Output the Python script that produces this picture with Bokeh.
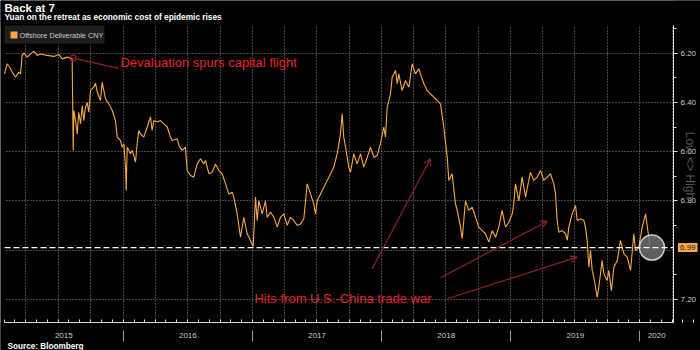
import math
import pandas as pd
from bokeh.plotting import figure
from bokeh.models import (ColumnDataSource, Range1d, FixedTicker, DatetimeAxis, DatetimeTickFormatter,
                          PrintfTickFormatter, Label, Arrow, OpenHead, BoxAnnotation)
from bokeh.embed import file_html
from bokeh.resources import INLINE

# ---------------- data ----------------
t_years = [
    2015.081, 2015.102, 2015.122, 2015.141, 2015.166, 2015.192, 2015.205, 2015.218, 2015.231, 2015.257,
    2015.283, 2015.308, 2015.334, 2015.360, 2015.412, 2015.463, 2015.502, 2015.528, 2015.567, 2015.605,
    2015.613, 2015.618, 2015.631, 2015.644, 2015.656, 2015.670, 2015.683, 2015.695, 2015.708, 2015.721,
    2015.734, 2015.747, 2015.772, 2015.786, 2015.799, 2015.824, 2015.837, 2015.863, 2015.889, 2015.915,
    2015.940, 2015.954, 2015.979, 2015.992, 2016.005, 2016.018, 2016.023, 2016.031, 2016.056, 2016.070,
    2016.082, 2016.095, 2016.108, 2016.121, 2016.134, 2016.159, 2016.186, 2016.211, 2016.224, 2016.237,
    2016.263, 2016.289, 2016.314, 2016.341, 2016.366, 2016.379, 2016.418, 2016.431, 2016.457, 2016.482,
    2016.495, 2016.521, 2016.546, 2016.573, 2016.598, 2016.624, 2016.637, 2016.663, 2016.689, 2016.714,
    2016.740, 2016.766, 2016.792, 2016.817, 2016.844, 2016.856, 2016.882, 2016.908, 2016.921, 2016.933,
    2016.960, 2016.985, 2017.006, 2017.024, 2017.037, 2017.050, 2017.076, 2017.101, 2017.115, 2017.140,
    2017.166, 2017.192, 2017.217, 2017.243, 2017.269, 2017.295, 2017.320, 2017.347, 2017.372, 2017.398,
    2017.424, 2017.450, 2017.475, 2017.488, 2017.502, 2017.527, 2017.553, 2017.579, 2017.605, 2017.630,
    2017.656, 2017.682, 2017.695, 2017.707, 2017.721, 2017.746, 2017.759, 2017.785, 2017.811, 2017.837,
    2017.862, 2017.889, 2017.914, 2017.940, 2017.966, 2017.991, 2018.017, 2018.030, 2018.043, 2018.069,
    2018.082, 2018.108, 2018.121, 2018.133, 2018.159, 2018.185, 2018.211, 2018.237, 2018.262, 2018.288,
    2018.301, 2018.327, 2018.353, 2018.378, 2018.404, 2018.430, 2018.456, 2018.481, 2018.508, 2018.520,
    2018.546, 2018.572, 2018.585, 2018.611, 2018.624, 2018.649, 2018.675, 2018.701, 2018.727, 2018.752,
    2018.779, 2018.804, 2018.830, 2018.856, 2018.882, 2018.907, 2018.933, 2018.959, 2018.985, 2019.011,
    2019.023, 2019.036, 2019.062, 2019.088, 2019.114, 2019.139, 2019.152, 2019.178, 2019.204, 2019.230,
    2019.255, 2019.282, 2019.307, 2019.333, 2019.346, 2019.359, 2019.372, 2019.398, 2019.423, 2019.437,
    2019.449, 2019.475, 2019.501, 2019.514, 2019.540, 2019.565, 2019.578, 2019.591, 2019.604, 2019.617,
    2019.630, 2019.642, 2019.669, 2019.681, 2019.707, 2019.720, 2019.746, 2019.758, 2019.779, 2019.797,
    2019.824, 2019.849, 2019.875, 2019.901, 2019.927, 2019.952, 2019.965, 2019.991, 2020.017, 2020.043,
    2020.068, 2020.076,
]
cny = [
    6.284, 6.243, 6.257, 6.277, 6.298, 6.277, 6.284, 6.209, 6.200, 6.216,
    6.203, 6.192, 6.209, 6.203, 6.209, 6.213, 6.205, 6.223, 6.216, 6.223,
    6.595, 6.433, 6.474, 6.528, 6.440, 6.487, 6.413, 6.474, 6.420, 6.400,
    6.440, 6.352, 6.338, 6.322, 6.358, 6.392, 6.318, 6.385, 6.406, 6.433,
    6.474, 6.541, 6.555, 6.582, 6.568, 6.663, 6.758, 6.582, 6.609, 6.595,
    6.616, 6.643, 6.568, 6.514, 6.528, 6.541, 6.501, 6.460, 6.514, 6.474,
    6.480, 6.474, 6.487, 6.500, 6.541, 6.555, 6.548, 6.575, 6.595, 6.582,
    6.677, 6.697, 6.704, 6.650, 6.629, 6.650, 6.636, 6.690, 6.684, 6.650,
    6.677, 6.690, 6.731, 6.772, 6.765, 6.785, 6.853, 6.948, 6.907, 6.867,
    6.934, 6.961, 6.986, 6.785, 6.880, 6.800, 6.853, 6.800, 6.867, 6.846,
    6.867, 6.907, 6.867, 6.853, 6.900, 6.867, 6.880, 6.900, 6.894, 6.873,
    6.731, 6.772, 6.812, 6.853, 6.800, 6.772, 6.745, 6.717, 6.690, 6.663,
    6.609, 6.528, 6.446, 6.541, 6.582, 6.663, 6.684, 6.609, 6.650, 6.609,
    6.663, 6.623, 6.582, 6.623, 6.616, 6.568, 6.500, 6.541, 6.420, 6.365,
    6.297, 6.270, 6.324, 6.284, 6.352, 6.311, 6.338, 6.243, 6.284, 6.263,
    6.284, 6.324, 6.352, 6.365, 6.379, 6.392, 6.406, 6.500, 6.623, 6.717,
    6.690, 6.812, 6.839, 6.907, 6.954, 6.800, 6.839, 6.826, 6.867, 6.907,
    6.921, 6.934, 6.968, 6.921, 6.948, 6.907, 6.839, 6.907, 6.887, 6.853,
    6.812, 6.731, 6.800, 6.704, 6.785, 6.717, 6.684, 6.717, 6.704, 6.677,
    6.717, 6.704, 6.690, 6.731, 6.772, 6.880, 6.928, 6.921, 6.934, 6.961,
    6.907, 6.853, 6.819, 6.880, 6.873, 6.880, 6.907, 6.961, 7.070, 7.002,
    7.083, 7.110, 7.192, 7.151, 7.043, 7.097, 7.124, 7.083, 7.165, 7.070,
    7.043, 6.961, 7.015, 7.029, 7.083, 6.934, 7.002, 6.989, 6.907, 6.853,
    6.948, 6.990,
]
last_close = 6.99
y_major = [6.20, 6.40, 6.60, 6.80, 7.20]
y_grid = [6.20, 6.40, 6.60, 6.80, 7.00, 7.20]
y_minor = [6.10, 6.30, 6.50, 6.70, 6.90, 7.10]
years = [2015, 2016, 2017, 2018, 2019, 2020]
series_name = "Offshore Deliverable CNY"
title_text = "Back at 7"
subtitle_text = "Yuan on the retreat as economic cost of epidemic rises"
source_text = "Source: Bloomberg"
note_deval = "Devaluation spurs capital flight"
note_trade = "Hits from U.S.-China trade war"
axis_note = "Low <> High"

# ---------------- helpers ----------------
EPOCH = pd.Timestamp("1970-01-01")
BASE = pd.Timestamp("2015-01-01")


def dt(t):
    return BASE + pd.to_timedelta((t - 2015.0) * 365.25, unit="D")


def ms(ts):
    return (pd.Timestamp(ts) - EPOCH) / pd.Timedelta(milliseconds=1)


def tms(t):
    return ms(dt(t))


W, H = 700, 350
# canvas layout (pixels) of the chart area
PX_PER_YEAR = 129.2
X0_PX = -6.5          # pixel of 2015-01-01
PX_PER_UNIT = 246.0
Y620_PX = 52.7        # pixel of 6.20
FRAME_L, FRAME_R, FRAME_T, FRAME_B = 4, 673, 25, 322


def px_t(px):
    return 2015.0 + (px - X0_PX) / PX_PER_YEAR


def px_v(py):
    return 6.20 + (py - Y620_PX) / PX_PER_UNIT


ORANGE = "#f7a845"
RED_TXT = "#e3242b"
RED_LINE = "#8e1f2e"
GRID = "#8a8a8a"
AXIS = "#dddddd"
TXT = "#cccccc"
FONT = "Liberation Sans"

x_left, x_right = tms(px_t(FRAME_L)), tms(px_t(FRAME_R))
y_top, y_bot = px_v(FRAME_T), px_v(FRAME_B)

src = ColumnDataSource(dict(x=[tms(t) for t in t_years], y=cny))

p = figure(width=W, height=H, x_axis_type="datetime", y_axis_location="right",
           x_range=Range1d(tms(px_t(0)), tms(px_t(W))), y_range=Range1d(px_v(H), px_v(0)),
           output_backend="svg", toolbar_location=None, min_border=0,
           background_fill_color="black", border_fill_color="black", outline_line_color=None)

# grids
month_ms = [ms(d) for d in pd.date_range("2015-01-01", "2020-06-01", freq="MS")]
quarter_ms = [ms(d) for d in pd.date_range("2015-01-01", "2020-06-01", freq="QS")
              if x_left <= ms(d) <= x_right]
p.xgrid.ticker = FixedTicker(ticks=quarter_ms)
p.ygrid.ticker = FixedTicker(ticks=y_grid)
p.grid.grid_line_color = GRID
p.grid.grid_line_dash = "1 2"
p.grid.grid_line_width = 1

# mask grid lines outside the chart area
for kw in (dict(bottom=y_top), dict(top=y_bot), dict(left=x_right), dict(right=x_left)):
    p.add_layout(BoxAnnotation(fill_color="black", fill_alpha=1.0, line_color=None,
                               level="underlay", **kw))

# bottom axis: monthly ticks
xa = p.xaxis[0]
xa.fixed_location = y_bot
xa.bounds = (x_left, x_right)
xa.ticker = FixedTicker(ticks=[], minor_ticks=month_ms)
xa.minor_tick_in = 3
xa.minor_tick_out = 0
xa.minor_tick_line_color = AXIS
xa.major_tick_line_color = None
xa.axis_line_color = AXIS

# year labels
year_starts = [ms(pd.Timestamp(f"{y}-01-01")) for y in years]
mids = []
for y in years:
    a = max(ms(pd.Timestamp(f"{y}-01-01")), x_left)
    b = min(ms(pd.Timestamp(f"{y + 1}-01-01")), x_right)
    mids.append((a + b) / 2)
fmt = DatetimeTickFormatter(years="%Y", months="%Y", days="%Y", hours="%Y", hourmin="%Y",
                            minutes="%Y", minsec="%Y", seconds="%Y", milliseconds="%Y",
                            microseconds="%Y")
xb = DatetimeAxis(ticker=FixedTicker(ticks=mids), formatter=fmt,
                  fixed_location=px_v(FRAME_B + 9), bounds=(x_left, x_right),
                  axis_line_color=None, major_tick_line_color=None, major_tick_in=0, major_tick_out=0,
                  minor_tick_line_color=None, major_label_standoff=1, major_label_text_font_size="8px",
                  major_label_text_color=TXT, major_label_text_font=FONT)
p.add_layout(xb, "below")

# year separators
xc = DatetimeAxis(ticker=FixedTicker(ticks=[], minor_ticks=year_starts),
                  fixed_location=px_v(FRAME_B + 8), bounds=(x_left, x_right),
                  axis_line_color=None, major_tick_line_color=None,
                  minor_tick_in=0, minor_tick_out=11, minor_tick_line_color="#9a9a9a")
p.add_layout(xc, "below")

# right axis
ya = p.yaxis[0]
ya.fixed_location = x_right
ya.bounds = (y_top, y_bot)
ya.ticker = FixedTicker(ticks=y_major, minor_ticks=y_minor)
ya.formatter = PrintfTickFormatter(format="%.2f")
ya.axis_line_color = AXIS
ya.major_tick_line_color = AXIS
ya.minor_tick_line_color = AXIS
ya.major_tick_in = 0
ya.major_tick_out = 4
ya.minor_tick_in = 0
ya.minor_tick_out = 3
ya.major_label_standoff = 3
ya.major_label_text_font_size = "8px"
ya.major_label_text_color = TXT
ya.major_label_text_font = FONT

# series
p.line("x", "y", source=src, line_color=ORANGE, line_width=1.1)

# end marker and last-close line
p.scatter(x=[src.data["x"][-1] + 6 * 86400000], y=[cny[-1]], size=25, marker="circle",
          fill_color="#6e6e6e", fill_alpha=0.85, line_color="#d0d0d0", line_width=1.5)
p.segment(x0=[x_left], x1=[x_right], y0=[last_close], y1=[last_close], line_color="white",
          line_dash="6 3", line_width=1.2)
p.add_layout(Label(x=FRAME_R + 4.5, x_units="screen", y=last_close, text=f"{last_close:.2f}",
                   text_align="left", text_baseline="middle", text_font_size="8px",
                   text_color="#222222", text_font=FONT, background_fill_color=ORANGE,
                   padding=2))

# annotations
p.segment(x0=[tms(2015.613)], y0=[6.220], x1=[tms(2015.964)], y1=[6.262],
          line_color=RED_LINE, line_width=1.2)
p.scatter(x=[tms(2015.613)], y=[6.220], size=6, marker="circle", fill_color=None,
          line_color=RED_LINE, line_width=1.2)
p.add_layout(Label(x=tms(2015.979), y=6.237, text=note_deval, text_baseline="middle",
                   text_font_size="13px", text_color=RED_TXT, text_font=FONT))

for (xs, ys, xe, ye) in [(2017.927, 7.076, 2018.378, 6.629),
                         (2018.456, 7.113, 2019.282, 6.883),
                         (2018.508, 7.198, 2019.514, 7.029)]:
    p.add_layout(Arrow(end=OpenHead(size=7, line_color=RED_LINE, line_width=1.2),
                       x_start=tms(xs), y_start=ys, x_end=tms(xe), y_end=ye,
                       line_color=RED_LINE, line_width=1.2))
p.add_layout(Label(x=tms(2017.016), y=7.199, text=note_trade, text_baseline="middle",
                   text_font_size="13px", text_color=RED_TXT, text_font=FONT))

# legend panel (background, colour key, label)
def screen_box(left, right, top, bottom, color):
    return BoxAnnotation(left=left, right=right, top=H - top, bottom=H - bottom,
                         left_units="screen", right_units="screen", top_units="screen",
                         bottom_units="screen", fill_color=color, fill_alpha=1.0, line_color=None)


p.add_layout(screen_box(FRAME_L, FRAME_L + 100, FRAME_T, FRAME_T + 18, "#1e1e1e"))
p.add_layout(screen_box(FRAME_L + 6, FRAME_L + 13, FRAME_T + 6, FRAME_T + 13, ORANGE))
p.add_layout(Label(x=FRAME_L + 15, y=H - (FRAME_T + 9.5), x_units="screen", y_units="screen",
                   text=series_name, text_font_size="7.3px", text_color=TXT, text_font=FONT,
                   text_baseline="middle"))

# titles / notes (screen units: x from left, y from bottom of the canvas)
p.add_layout(Label(x=4, y=H - 7, x_units="screen", y_units="screen", text=title_text,
                   text_font_size="11.5px", text_font_style="bold", text_color="white",
                   text_font=FONT, text_baseline="middle"))
p.add_layout(Label(x=4, y=H - 16, x_units="screen", y_units="screen", text=subtitle_text,
                   text_font_size="8.3px", text_font_style="bold", text_color="white",
                   text_font=FONT, text_baseline="middle"))
p.add_layout(Label(x=7, y=H - 346, x_units="screen", y_units="screen", text=source_text,
                   text_font_size="8.2px", text_font_style="bold", text_color="white",
                   text_font=FONT, text_baseline="middle"))
p.add_layout(Label(x=689, y=H - 165, x_units="screen", y_units="screen", text=axis_note,
                   angle=-math.pi / 2, text_font_size="12px", text_color="#555555",
                   text_font=FONT, text_align="center", text_baseline="middle"))

open("out.html", "w").write(file_html(p, INLINE))
